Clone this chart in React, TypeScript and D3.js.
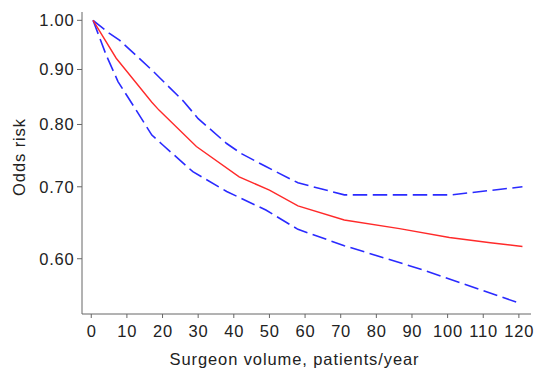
import React from "react";
import * as d3 from "d3";

const redX = [0.5, 7, 17, 19, 29.5, 41.5, 50, 58, 71, 86.5, 100.5, 112, 121];
const redY = [1.0, 0.922, 0.839, 0.825, 0.763, 0.715, 0.695, 0.672, 0.652, 0.64, 0.628, 0.621, 0.616];

const upperX = [0.5, 5, 8, 17, 26, 30, 38, 42, 49, 58, 71, 101, 121];
const upperY = [1.0, 0.973, 0.958, 0.899, 0.84, 0.81, 0.768, 0.752, 0.731, 0.706, 0.688, 0.688, 0.7];

const lowerX = [0.5, 4.2, 7.5, 12.5, 17, 20, 28.5, 38, 49, 58, 71, 93, 120.5];
const lowerY = [1.0, 0.928, 0.877, 0.826, 0.782, 0.766, 0.723, 0.693, 0.666, 0.639, 0.617, 0.586, 0.545];

const xTicks = [0, 10, 20, 30, 40, 50, 60, 70, 80, 90, 100, 110, 120];
const yTicks = [1.0, 0.9, 0.8, 0.7, 0.6];

const W = 540;
const H = 371;
const left = 82;
const right = 531;
const top = 12;
const bottom = 314;

export default function App() {
  const x = d3.scaleLinear().domain([-2.6, 123.4]).range([left, right]);
  const y = d3.scaleLog().domain([0.533, 1.018]).range([bottom, top]);
  const line = d3
    .line<[number, number]>()
    .x((d) => x(d[0]))
    .y((d) => y(d[1]));
  const zip = (a: number[], b: number[]) => a.map((v, i) => [v, b[i]] as [number, number]);
  const font = "'Liberation Sans', Arial, Helvetica, sans-serif";
  const axisColor = "#666";
  const fs = 16.5;
  const ls = 0.8;
  return (
    <svg
      width={W}
      height={H}
      style={{ position: "absolute", left: 0, top: 0, background: "#fff" }}
      fontFamily={font}
    >
      <line x1={left} x2={left} y1={top} y2={bottom} stroke={axisColor} strokeWidth={1} />
      <line x1={left} x2={right} y1={bottom} y2={bottom} stroke={axisColor} strokeWidth={1} />
      {yTicks.map((t) => (
        <g key={"y" + t}>
          <line x1={left - 5} x2={left} y1={y(t)} y2={y(t)} stroke={axisColor} />
          <text x={74.5} y={y(t)} dy="0.36em" textAnchor="end" fontSize={fs} letterSpacing={ls} fill="#222">
            {t.toFixed(2)}
          </text>
        </g>
      ))}
      {xTicks.map((t) => (
        <g key={"x" + t}>
          <line x1={x(t)} x2={x(t)} y1={bottom} y2={bottom + 4} stroke={axisColor} />
          <text x={x(t) + ls / 2} y={336.5} textAnchor="middle" fontSize={fs} letterSpacing={ls} fill="#222">
            {t}
          </text>
        </g>
      ))}
      <text x={294.5} y={365} textAnchor="middle" fontSize={fs} letterSpacing={0.9} fill="#222">
        Surgeon volume, patients/year
      </text>
      <text
        transform={`translate(25,157) rotate(-90)`}
        textAnchor="middle"
        fontSize={fs}
        letterSpacing={0.9}
        fill="#222"
      >
        Odds risk
      </text>
      <path d={line(zip(upperX, upperY)) || ""} fill="none" stroke="#2a2aff" strokeWidth={1.6} strokeDasharray="14.5 5.5" />
      <path d={line(zip(lowerX, lowerY)) || ""} fill="none" stroke="#2a2aff" strokeWidth={1.6} strokeDasharray="14.5 5.5" />
      <path d={line(zip(redX, redY)) || ""} fill="none" stroke="#ff2a2a" strokeWidth={1.4} />
    </svg>
  );
}
